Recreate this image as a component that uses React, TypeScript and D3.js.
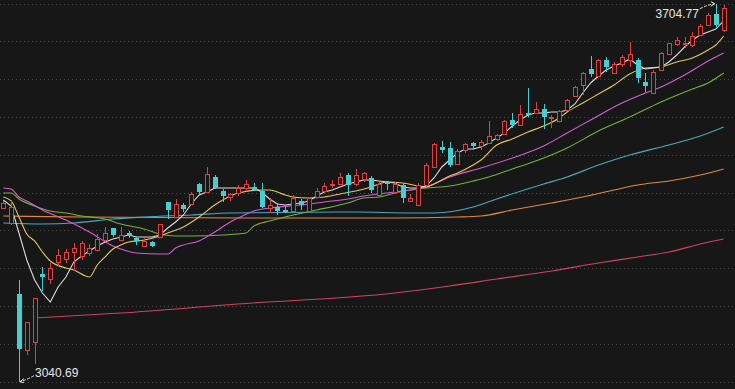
import React, { useEffect, useRef } from 'react';
import * as d3 from 'd3';

// daily candles, index 0 = leftmost bar
const opens = [
  3345.9, 3319.5, 3194.8, 3096.4, 3110.4, 3229.9, 3221.1, 3251.0, 3256.3, 3268.6,
  3261.5, 3266.8, 3272.1, 3289.6, 3310.7, 3289.6, 3301.9, 3293.2, 3279.1, 3286.1,
  3294.9, 3356.4, 3330.0, 3351.1, 3352.9, 3388.0, 3374.0, 3400.3, 3375.7, 3365.2,
  3372.2, 3381.0, 3382.8, 3375.7, 3345.9, 3347.6, 3342.3, 3340.6, 3358.2, 3340.6,
  3365.2, 3375.7, 3386.3, 3388.0, 3403.8, 3388.0, 3396.8, 3398.6, 3368.7, 3391.5,
  3374.0, 3386.3, 3358.2, 3351.1, 3386.3, 3417.9, 3453.0, 3451.3, 3423.2, 3447.8,
  3460.0, 3454.8, 3460.0, 3467.1, 3475.9, 3500.5, 3491.7, 3512.8, 3512.8, 3519.8,
  3504.0, 3498.7, 3518.0, 3542.6, 3561.9, 3590.0, 3577.8, 3605.9, 3583.0, 3598.8,
  3605.9, 3605.9, 3567.2, 3547.9, 3588.3, 3616.4, 3634.0, 3634.0, 3632.2, 3649.8,
  3667.4, 3686.7, 3658.6,
];
const highs = [
  3358.2, 3359.9, 3219.4, 3145.6, 3187.7, 3242.2, 3249.2, 3273.8, 3273.8, 3284.4,
  3287.9, 3282.6, 3300.2, 3312.5, 3310.7, 3312.5, 3305.4, 3294.9, 3293.2, 3287.9,
  3317.7, 3356.4, 3361.7, 3354.6, 3374.0, 3389.8, 3417.9, 3403.8, 3379.2, 3372.2,
  3386.3, 3395.0, 3389.8, 3389.8, 3363.4, 3354.6, 3347.6, 3368.7, 3361.7, 3365.2,
  3381.0, 3389.8, 3395.0, 3407.3, 3407.3, 3414.4, 3409.1, 3402.1, 3391.5, 3393.3,
  3391.5, 3389.8, 3370.5, 3389.8, 3424.9, 3460.0, 3463.6, 3461.8, 3449.5, 3460.0,
  3461.8, 3465.3, 3498.7, 3475.9, 3500.5, 3512.8, 3526.8, 3556.7, 3532.1, 3528.6,
  3509.2, 3518.0, 3537.4, 3560.2, 3584.8, 3612.9, 3607.6, 3611.1, 3602.4, 3614.6,
  3637.5, 3609.4, 3583.0, 3588.3, 3619.9, 3635.7, 3646.3, 3646.3, 3655.1, 3669.1,
  3688.4, 3704.77, 3702.5,
];
const lows = [
  3344.1, 3316.0, 3040.69, 3087.6, 3071.8, 3200.0, 3212.3, 3244.0, 3249.2, 3235.2,
  3254.5, 3261.5, 3270.3, 3286.1, 3294.9, 3289.6, 3293.2, 3280.9, 3277.3, 3277.3,
  3293.2, 3326.5, 3328.3, 3338.8, 3351.1, 3370.5, 3374.0, 3379.2, 3356.4, 3358.2,
  3366.9, 3377.5, 3375.7, 3345.9, 3337.1, 3333.6, 3337.1, 3337.1, 3342.3, 3338.8,
  3363.4, 3372.2, 3381.0, 3386.3, 3366.9, 3384.5, 3391.5, 3372.2, 3366.9, 3377.5,
  3370.5, 3354.6, 3356.4, 3349.4, 3382.8, 3417.9, 3442.5, 3417.9, 3421.4, 3442.5,
  3447.8, 3447.8, 3458.3, 3463.6, 3474.1, 3486.4, 3489.9, 3505.7, 3512.8, 3484.6,
  3486.4, 3496.9, 3516.3, 3540.9, 3544.4, 3576.0, 3577.8, 3584.8, 3583.0, 3593.6,
  3593.6, 3565.5, 3549.6, 3546.1, 3586.5, 3614.6, 3630.5, 3626.9, 3628.7, 3648.0,
  3665.6, 3663.8, 3655.1,
];
const closes = [
  3354.6, 3347.6, 3098.1, 3145.6, 3187.7, 3224.6, 3240.4, 3263.3, 3268.6, 3275.6,
  3284.4, 3275.6, 3291.4, 3301.9, 3298.4, 3298.4, 3296.7, 3287.9, 3287.9, 3279.1,
  3317.7, 3342.3, 3352.9, 3344.1, 3370.5, 3374.0, 3405.6, 3381.0, 3366.9, 3370.5,
  3381.0, 3388.0, 3377.5, 3347.6, 3351.1, 3340.6, 3338.8, 3363.4, 3351.1, 3363.4,
  3375.7, 3384.5, 3388.0, 3400.3, 3386.3, 3403.8, 3407.3, 3377.5, 3388.0, 3388.0,
  3388.0, 3363.4, 3363.4, 3386.3, 3421.4, 3458.3, 3447.8, 3421.4, 3446.0, 3458.3,
  3454.8, 3461.8, 3472.3, 3474.1, 3498.7, 3491.7, 3511.0, 3509.2, 3519.8, 3505.7,
  3505.7, 3516.3, 3535.6, 3558.4, 3583.0, 3581.3, 3605.9, 3593.6, 3598.8, 3611.1,
  3616.4, 3574.2, 3560.2, 3584.8, 3618.2, 3635.7, 3641.0, 3635.7, 3648.0, 3665.6,
  3684.9, 3667.4, 3697.2,
];

// moving averages
const ma5 = [
  3359.9, 3349.4, 3301.9, 3254.5, 3219.4, 3196.5, 3180.7, 3207.1, 3224.6, 3251.0,
  3261.5, 3270.3, 3279.1, 3286.1, 3291.4, 3294.9, 3298.4, 3294.9, 3294.9, 3294.9,
  3298.4, 3310.7, 3321.3, 3333.6, 3352.9, 3368.7, 3374.0, 3381.0, 3381.0, 3381.0,
  3381.0, 3381.0, 3381.0, 3374.0, 3361.7, 3352.9, 3351.1, 3352.9, 3354.6, 3358.2,
  3366.9, 3374.0, 3377.5, 3382.8, 3388.0, 3391.5, 3395.0, 3395.0, 3393.3, 3391.5,
  3389.8, 3382.8, 3381.0, 3381.0, 3384.5, 3398.6, 3417.9, 3430.2, 3442.5, 3449.5,
  3449.5, 3453.0, 3460.0, 3468.8, 3477.6, 3489.9, 3500.5, 3509.2, 3512.8, 3512.8,
  3514.5, 3514.5, 3518.0, 3528.6, 3547.9, 3565.5, 3577.8, 3588.3, 3595.3, 3600.6,
  3607.6, 3597.1, 3590.0, 3591.8, 3593.6, 3602.4, 3614.6, 3628.7, 3641.0, 3649.8,
  3655.1, 3660.3, 3674.4,
];
const ma10: [number, number][] = [
  [0, 3365.2], [1, 3358.2], [2, 3330.0], [3, 3300.2], [4, 3287.9], [5, 3268.6], [6, 3252.7],
  [8, 3240.4], [9, 3236.9], [11, 3224.6], [12, 3245.7], [13, 3259.8], [14, 3273.8], [15, 3280.9],
  [16, 3286.1], [18, 3289.6], [20, 3296.7], [21, 3301.9], [23, 3312.5], [25, 3330.0], [27, 3351.1],
  [29, 3366.9], [30, 3372.2], [33, 3377.5], [34, 3377.5], [36, 3368.7], [37, 3365.2], [39, 3363.4],
  [41, 3365.2], [43, 3370.5], [45, 3375.7], [47, 3382.8], [49, 3391.5], [51, 3389.8], [53, 3384.5],
  [54, 3382.8], [55, 3388.0], [57, 3402.1], [58, 3407.3], [60, 3421.4], [61, 3430.2], [63, 3456.5],
  [65, 3467.1], [67, 3479.4], [69, 3489.9], [71, 3504.0], [72, 3514.5], [74, 3530.3], [76, 3546.1],
  [78, 3561.9], [80, 3581.3], [82, 3591.8], [84, 3593.6], [86, 3602.4], [88, 3609.4], [90, 3623.4],
  [91, 3632.2], [92, 3648.0],
];
const ma20: [number, number][] = [
  [0, 3381.0], [1, 3379.2], [2, 3365.2], [3, 3358.2], [5, 3342.3], [8, 3324.8], [11, 3303.7],
  [14, 3279.1], [15, 3273.8], [17, 3266.8], [20, 3265.0], [21, 3265.0], [22, 3275.6], [23, 3280.9],
  [25, 3287.9], [27, 3303.7], [29, 3321.3], [30, 3328.3], [32, 3340.6], [34, 3345.9], [38, 3351.1],
  [41, 3356.4], [44, 3361.7], [46, 3366.9], [50, 3374.0], [52, 3377.5], [54, 3382.8], [57, 3400.3],
  [61, 3416.1], [65, 3433.7], [69, 3454.8], [72, 3477.6], [75, 3500.5], [79, 3530.3], [82, 3547.9],
  [84, 3558.4], [87, 3579.5], [90, 3604.1], [92, 3618.2],
];
const ma30: [number, number][] = [
  [0, 3372.2], [1, 3372.2], [2, 3361.7], [4, 3349.4], [6, 3340.6], [8, 3337.1], [10, 3331.8],
  [13, 3326.5], [15, 3317.7], [18, 3309.0], [20, 3300.2], [22, 3296.7], [24, 3296.7], [28, 3298.4],
  [31, 3301.9], [32, 3314.2], [34, 3323.0], [37, 3333.6], [40, 3342.3], [44, 3354.6], [46, 3363.4],
  [48, 3365.2], [50, 3372.2], [52, 3377.5], [54, 3381.0], [57, 3384.5], [60, 3393.3], [62, 3400.3],
  [65, 3414.4], [68, 3428.4], [72, 3451.3], [76, 3481.1], [80, 3505.7], [84, 3532.1], [88, 3554.9],
  [90, 3565.5], [92, 3583.0],
];
const ma60: [number, number][] = [
  [0, 3319.5], [5, 3317.7], [9, 3319.5], [14, 3326.5], [18, 3330.0], [24, 3333.6], [29, 3337.1],
  [45, 3338.8], [52, 3337.1], [55, 3337.1], [60, 3347.6], [63, 3361.7], [69, 3388.0], [72, 3400.3],
  [76, 3421.4], [80, 3439.0], [85, 3456.5], [89, 3472.3], [92, 3488.2],
];
const ma120: [number, number][] = [
  [0, 3331.8], [10, 3330.0], [30, 3328.3], [50, 3328.3], [58, 3330.0], [61, 3331.8], [65, 3342.3],
  [70, 3354.6], [74, 3365.2], [78, 3377.5], [81, 3386.3], [85, 3393.3], [89, 3403.8], [92, 3414.4],
];
const ma250: [number, number][] = [
  [4, 3152.6], [15, 3161.4], [30, 3177.2], [50, 3196.5], [57, 3208.8], [63, 3221.1], [70, 3235.2],
  [76, 3249.2], [81, 3259.8], [85, 3268.6], [89, 3282.6], [92, 3291.4],
];

const lowPrice = 3040.69;
const highPrice = 3704.77;
const lowIndex = 2;
const highIndex = 91;

const UP = '#e0403f';
const DOWN = '#45cfd2';

const App: React.FC = () => {
  const svgRef = useRef<SVGSVGElement>(null);

  useEffect(() => {
    if (!svgRef.current) return;
    const width = 735;
    const height = 389;

    const svg = d3.select(svgRef.current);
    svg.selectAll('*').remove();

    const x = d3.scaleLinear().domain([0, opens.length - 1]).range([3.3, 723.7]);
    const y = d3.scaleLinear().domain([lowPrice, highPrice]).range([381.7, 3.7]);

    svg.append('rect').attr('width', width).attr('height', height).attr('fill', '#171717');

    // dotted grid: ten equal slices of the visible range
    const levels = d3.range(11).map(k => lowPrice + ((highPrice - lowPrice) * k) / 10);
    svg.append('g')
      .selectAll('line')
      .data(levels)
      .join('line')
      .attr('x1', 0)
      .attr('x2', width)
      .attr('y1', d => Math.round(y(d)) + 0.5)
      .attr('y2', d => Math.round(y(d)) + 0.5)
      .attr('stroke', '#4a4a4a')
      .attr('stroke-dasharray', '1,3');

    // moving averages
    const knotLine = d3.line<[number, number]>()
      .x(d => x(d[0]))
      .y(d => y(d[1]))
      .curve(d3.curveMonotoneX);

    const mas: { data: [number, number][]; color: string }[] = [
      { data: ma250, color: '#d2445e' },
      { data: ma120, color: '#e0893c' },
      { data: ma60, color: '#4aa8c0' },
      { data: ma30, color: '#74b23c' },
      { data: ma20, color: '#d65cd6' },
      { data: ma10, color: '#e6c85a' },
      { data: ma5.map((v, i) => [i, v] as [number, number]), color: '#dcdcdc' },
    ];

    const lines = svg.append('g').attr('fill', 'none').attr('stroke-width', 1.1);
    mas.forEach(m => {
      lines.append('path')
        .attr('d', m === mas[6] ? knotLine.curve(d3.curveLinear)(m.data) : knotLine.curve(d3.curveMonotoneX)(m.data))
        .attr('stroke', m.color);
    });

    // candles
    const idx = d3.range(opens.length);
    const candles = svg.append('g').selectAll('g').data(idx).join('g');

    candles.each(function (i) {
      const g = d3.select(this);
      const up = closes[i] >= opens[i];
      const col = up ? UP : DOWN;
      const cx = Math.round(x(i));
      const yt = Math.round(y(Math.max(opens[i], closes[i])));
      const yb = Math.round(y(Math.min(opens[i], closes[i])));
      const yh = Math.round(y(highs[i]));
      const yl = Math.round(y(lows[i]));
      if (up) {
        if (yh < yt) g.append('line').attr('x1', cx + 0.5).attr('x2', cx + 0.5).attr('y1', yh).attr('y2', yt).attr('stroke', col);
        if (yl > yb) g.append('line').attr('x1', cx + 0.5).attr('x2', cx + 0.5).attr('y1', yb).attr('y2', yl).attr('stroke', col);
        g.append('rect')
          .attr('x', cx - 1.5)
          .attr('y', yt + 0.5)
          .attr('width', 4)
          .attr('height', Math.max(yb - yt, 0))
          .attr('fill', '#171717')
          .attr('stroke', col);
      } else {
        g.append('line').attr('x1', cx + 0.5).attr('x2', cx + 0.5).attr('y1', yh).attr('y2', yl).attr('stroke', col);
        g.append('rect')
          .attr('x', cx - 2)
          .attr('y', yt)
          .attr('width', 5)
          .attr('height', Math.max(yb - yt, 1))
          .attr('fill', col);
      }
    });

    // high / low markers
    const labelFont = '"Liberation Sans", Arial, sans-serif';
    const hx = x(highIndex);
    const hy = y(highPrice);
    svg.append('path')
      .attr('d', `M${hx - 16},${hy + 5} Q${hx - 8},${hy + 1} ${hx - 1},${hy}`)
      .attr('fill', 'none')
      .attr('stroke', '#e6e6e6')
      .attr('stroke-dasharray', '3,1.5');
    svg.append('path')
      .attr('d', `M${hx - 5},${hy - 2} L${hx - 1},${hy} L${hx - 5},${hy + 2.5}`)
      .attr('fill', 'none')
      .attr('stroke', '#e6e6e6');
    svg.append('text')
      .attr('x', hx - 17)
      .attr('y', hy + 14.5)
      .attr('text-anchor', 'end')
      .attr('font-family', labelFont)
      .attr('font-size', 12)
      .attr('fill', '#e6e6e6')
      .text(highPrice.toFixed(2));

    const lx = x(lowIndex);
    const ly = y(lowPrice);
    svg.append('path')
      .attr('d', `M${lx + 15},${ly - 6} Q${lx + 8},${ly - 2} ${lx + 1},${ly}`)
      .attr('fill', 'none')
      .attr('stroke', '#e6e6e6')
      .attr('stroke-dasharray', '3,1.5');
    svg.append('path')
      .attr('d', `M${lx + 5},${ly - 3} L${lx + 1},${ly} L${lx + 5},${ly + 1}`)
      .attr('fill', 'none')
      .attr('stroke', '#e6e6e6');
    svg.append('text')
      .attr('x', lx + 16)
      .attr('y', ly - 4.5)
      .attr('font-family', labelFont)
      .attr('font-size', 12)
      .attr('fill', '#e6e6e6')
      .text(lowPrice.toFixed(2));
  }, []);

  return (
    <svg
      ref={svgRef}
      width={735}
      height={389}
      style={{ position: 'fixed', left: 0, top: 0, display: 'block' }}
    />
  );
};

export default App;
